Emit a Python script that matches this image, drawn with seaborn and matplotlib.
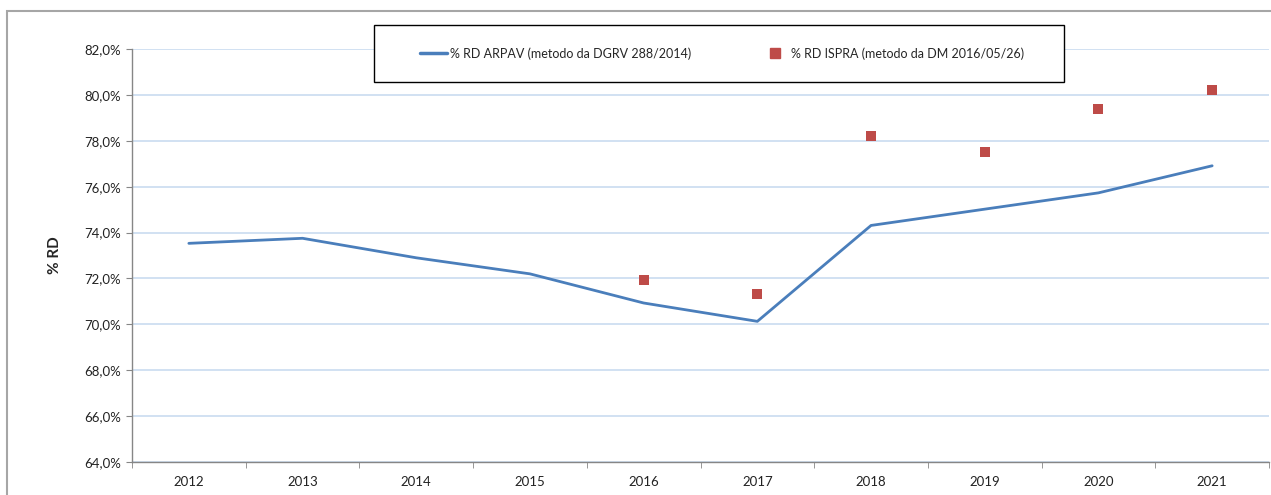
import pandas as pd
import seaborn as sns
import matplotlib.pyplot as plt
from matplotlib.patches import Rectangle
from matplotlib.lines import Line2D
from matplotlib.ticker import FuncFormatter, MultipleLocator

# data
years = [2012, 2013, 2014, 2015, 2016, 2017, 2018, 2019, 2020, 2021]
rd_arpav = [73.53, 73.75, 72.90, 72.20, 70.93, 70.13, 74.31, 75.02, 75.73, 76.91]
ispra_years = [2016, 2017, 2018, 2019, 2020, 2021]
rd_ispra = [71.92, 71.32, 78.20, 77.50, 79.40, 80.20]

label_arpav = "% RD ARPAV (metodo da DGRV 288/2014)"
label_ispra = "% RD ISPRA (metodo da DM 2016/05/26)"

df_line = pd.DataFrame({"anno": years, "rd": rd_arpav})
df_pts = pd.DataFrame({"anno": ispra_years, "rd": rd_ispra})

sns.set_style("white")
plt.rcParams["font.family"] = ["Lato", "DejaVu Sans"]

fig = plt.figure(figsize=(12.71, 4.95), dpi=100)
ax = fig.add_axes([132 / 1271, 33 / 495, 1137 / 1271, 413 / 495])

line_col = "#4a7ebb"
sq_col = "#be4b48"

sns.lineplot(data=df_line, x="anno", y="rd", ax=ax, color=line_col, linewidth=2.0, zorder=3)
sns.scatterplot(data=df_pts, x="anno", y="rd", ax=ax, color=sq_col, marker="s", s=55,
                edgecolor=sq_col, linewidth=0, zorder=4)

ax.set_xlim(2011.5, 2021.5)
ax.set_ylim(64, 82)
ax.yaxis.set_major_locator(MultipleLocator(2))
ax.yaxis.set_major_formatter(FuncFormatter(lambda v, p: f"{v:.1f}%".replace(".", ",")))
ax.set_xticks(years)
ax.set_xticklabels([str(y) for y in years])
ax.set_xticks([y + 0.5 for y in [2011] + years], minor=True)

ax.grid(axis="y", color="#c9dbf0", linewidth=1.2, zorder=0)
ax.grid(axis="x", visible=False)
for s in ["top", "right"]:
    ax.spines[s].set_visible(False)
for s in ["left", "bottom"]:
    ax.spines[s].set_color("#868686")
    ax.spines[s].set_linewidth(1.0)

ax.tick_params(axis="y", which="major", length=4, color="#868686", labelsize=9.5, pad=4,
               left=True, labelcolor="#222222")
ax.tick_params(axis="x", which="major", length=0, labelsize=9.5, pad=10, labelcolor="#222222")
ax.tick_params(axis="x", which="minor", length=4, color="#868686", bottom=True)

ax.set_xlabel("")
ax.set_ylabel("% RD", fontsize=11, fontweight="bold", labelpad=16)

# legend box
fig.patches.append(Rectangle((374 / 1271, (495 - 82) / 495), 690 / 1271, 57 / 495,
                             transform=fig.transFigure, facecolor="white",
                             edgecolor="black", linewidth=1.0, zorder=5))
handles = [Line2D([0], [0], color=line_col, linewidth=2.5),
           Line2D([0], [0], color=sq_col, marker="s", linestyle="none", markersize=7)]
fig.legend(handles, [label_arpav, label_ispra], loc="center",
           bbox_to_anchor=(722 / 1271, (495 - 53.5) / 495), ncol=2, frameon=False,
           fontsize=9, columnspacing=5.6, handlelength=2.2, handletextpad=0.2)

# outer chart frame
fig.patches.append(Rectangle((7 / 1271, -0.1), 1.2, (495 - 11) / 495 + 0.1,
                             transform=fig.transFigure, facecolor="none",
                             edgecolor="#a6a6a6", linewidth=1.5, zorder=0))

fig.savefig("out.png", dpi=100)
